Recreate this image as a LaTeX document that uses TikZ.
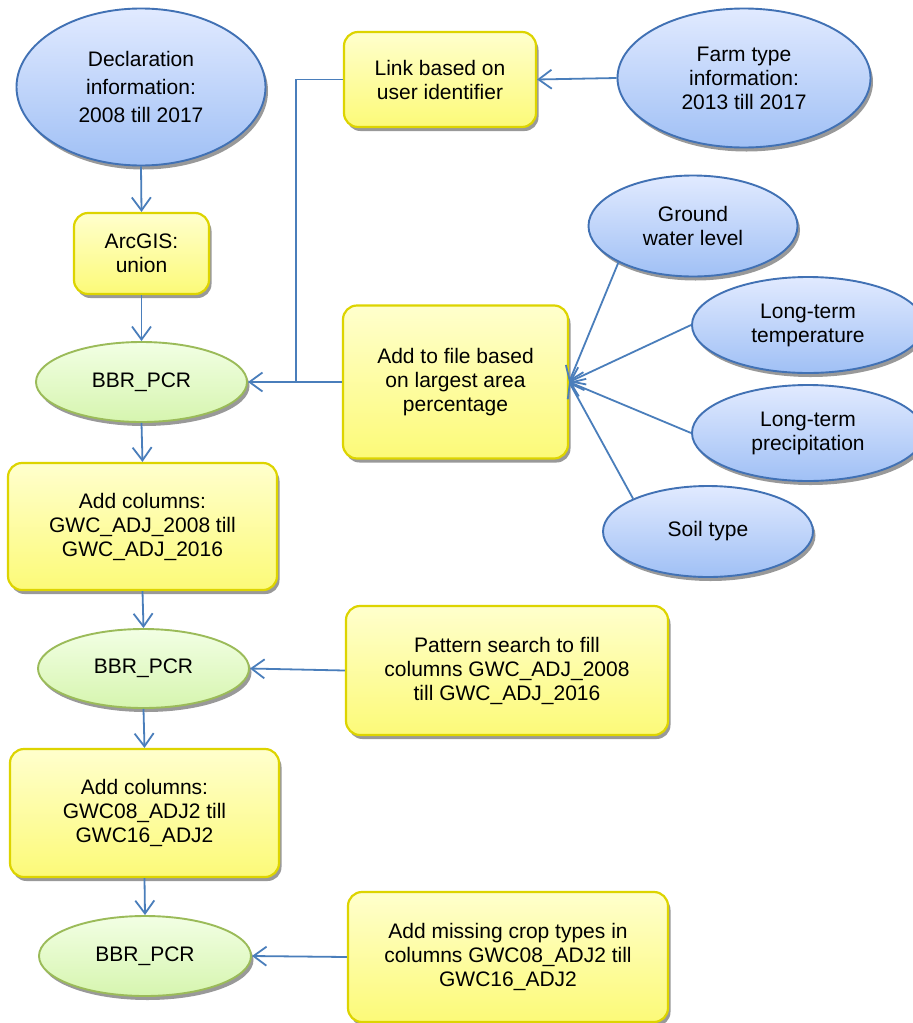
\documentclass[tikz,border=0pt]{standalone}
\usepackage{fontspec}
\setmainfont{Liberation Sans}
\usetikzlibrary{shapes.geometric,arrows.meta,shadows}
\definecolor{arrc}{RGB}{74,126,187}
\definecolor{ybord}{RGB}{221,212,0}
\definecolor{ytop}{RGB}{255,255,205}
\definecolor{ybot}{RGB}{252,250,120}
\definecolor{bbord}{RGB}{65,113,180}
\definecolor{btop}{RGB}{225,234,255}
\definecolor{bbot}{RGB}{160,192,245}
\definecolor{gbord}{RGB}{155,187,89}
\definecolor{gtop}{RGB}{242,255,228}
\definecolor{gbot}{RGB}{214,245,175}
\tikzset{
  shad/.style={drop shadow={shadow xshift=2.5pt,shadow yshift=-4pt,fill=black!50,opacity=0.8}},
  ybox/.style={shad,draw=ybord,line width=2.2pt,rounded corners=14pt,top color=ytop,bottom color=ybot,
    align=center,inner sep=0pt,font=\fontsize{21}{24}\selectfont},
  bell/.style={shad,ellipse,draw=bbord,line width=1.9pt,top color=btop,bottom color=bbot,
    align=center,inner sep=0pt,font=\fontsize{21}{24}\selectfont},
  gell/.style={shad,ellipse,draw=gbord,line width=1.9pt,top color=gtop,bottom color=gbot,
    align=center,inner sep=0pt,font=\fontsize{21}{24}\selectfont},
  conn/.style={draw=arrc,line width=1.8pt},
  arr/.style={conn,-{Straight Barb[length=13pt,width=19pt,line width=1.8pt]}},
}
\begin{document}
\begin{tikzpicture}[x=1pt,y=-1pt]
\clip (0,0) rectangle (913,1023);
\fill[white] (0,0) rectangle (913,1023);
% left column
\node[bell,minimum width=249pt,minimum height=157pt,font=\fontsize{21}{28}\selectfont] (decl) at (141,87) {Declaration\\information:\\2008 till 2017};
\node[ybox,minimum width=135pt,minimum height=81pt] (arc) at (141.5,253.5) {ArcGIS:\\union};
\node[gell,minimum width=211pt,minimum height=80pt] (bbr1) at (141.5,382) {BBR\_PCR};
\node[ybox,minimum width=269pt,minimum height=127pt] (cols1) at (142.5,526.5) {Add columns:\\GWC\_ADJ\_2008 till\\GWC\_ADJ\_2016};
\node[gell,minimum width=211pt,minimum height=79pt] (bbr2) at (143.5,668.5) {BBR\_PCR};
\node[ybox,minimum width=269pt,minimum height=128pt] (cols2) at (144.5,813) {Add columns:\\GWC08\_ADJ2 till\\GWC16\_ADJ2};
\node[gell,minimum width=212pt,minimum height=80pt] (bbr3) at (145,956) {BBR\_PCR};
% middle column
\node[ybox,minimum width=192pt,minimum height=95pt] (link) at (440,79.5) {Link based on\\user identifier};
\node[ybox,minimum width=225pt,minimum height=153pt] (add) at (455.5,382) {Add to file based\\on largest area\\percentage};
\node[ybox,minimum width=322pt,minimum height=129pt] (pat) at (507,670.5) {Pattern search to fill\\columns GWC\_ADJ\_2008\\till GWC\_ADJ\_2016};
\node[ybox,minimum width=320pt,minimum height=130pt] (miss) at (508,957) {Add missing crop types in\\columns GWC08\_ADJ2 till\\GWC16\_ADJ2};
% right column
\node[bell,minimum width=253pt,minimum height=139pt] (farm) at (744,78) {Farm type\\information:\\2013 till 2017};
\node[bell,minimum width=209pt,minimum height=101pt] (gw) at (693,226) {Ground\\water level};
\node[bell,minimum width=232pt,minimum height=96pt] (temp) at (808,325) {Long-term\\temperature};
\node[bell,minimum width=232pt,minimum height=96pt] (prec) at (808,433) {Long-term\\precipitation};
\node[bell,minimum width=210pt,minimum height=91pt] (soil) at (708,531.5) {Soil type};
\coordinate (jn) at (296,382);
% connectors
\draw[arr] (decl.south) -- (arc.north);
\draw[arr] (arc.south) -- (bbr1.north);
\draw[arr] (bbr1.south) -- (cols1.north);
\draw[arr] (cols1.south) -- (bbr2.north);
\draw[arr] (bbr2.south) -- (cols2.north);
\draw[arr] (cols2.south) -- (bbr3.north);
\draw[arr] (farm.west) -- (link.east);
\draw[conn] (link.west) -| (jn);
\draw[arr] (add.west) -- (bbr1.east);
\draw[arr] (pat.west) -- (bbr2.east);
\draw[arr] (miss.west) -- (bbr3.east);
\draw[arr] (gw.south west) -- (add.east);
\draw[arr] (temp.west) -- (add.east);
\draw[arr] (prec.west) -- (add.east);
\draw[arr] (soil.north west) -- (add.east);
\end{tikzpicture}
\end{document}
